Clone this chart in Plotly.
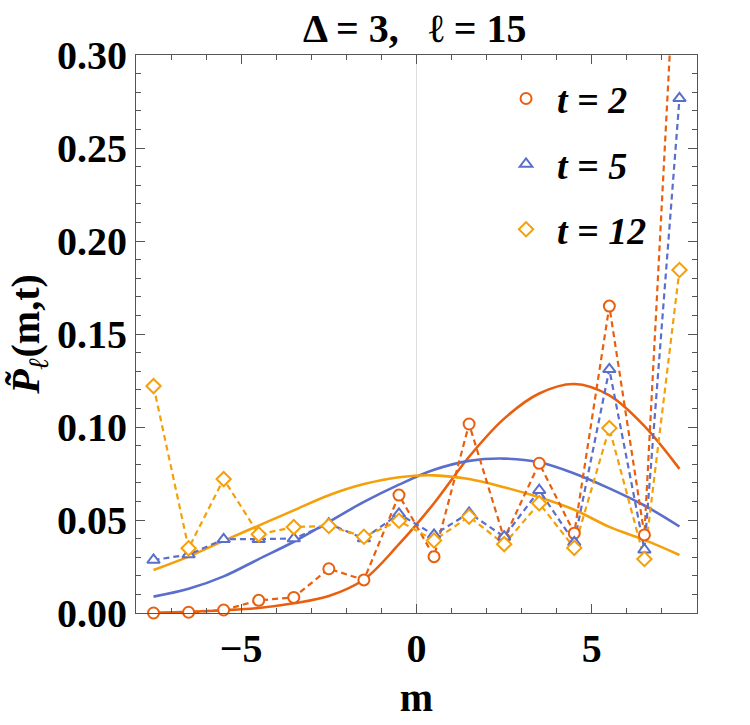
import plotly.graph_objects as go
import numpy as np

# ---- data ----
m_pts = [-7.5, -6.5, -5.5, -4.5, -3.5, -2.5, -1.5, -0.5, 0.5, 1.5, 2.5, 3.5, 4.5, 5.5, 6.5, 7.5]
p_t2 = [0.000, 0.0004, 0.0016, 0.0068, 0.0084, 0.0238, 0.0178, 0.0634, 0.0303, 0.1016, 0.0400, 0.0805, 0.0429, 0.1650, 0.0420, 0.400]
p_t5 = [0.0285, 0.0314, 0.0396, 0.0396, 0.0400, 0.0480, 0.0400, 0.0533, 0.0420, 0.0538, 0.0410, 0.0660, 0.0380, 0.1310, 0.0340, 0.2767]
p_t12 = [0.1220, 0.0348, 0.0720, 0.0423, 0.0462, 0.0468, 0.0410, 0.0496, 0.0390, 0.0518, 0.0370, 0.0590, 0.0350, 0.0994, 0.0290, 0.1844]

m_curve = [-7.5, -6.5, -5.5, -4.5, -3.5, -2.5, -1.5, -0.5, 0.5, 1.5, 2.5, 3.5, 4.5, 5.5, 6.5, 7.5]
c_t2 = [0.0002, 0.0007, 0.0015, 0.0027, 0.0052, 0.0091, 0.0180, 0.0370, 0.0590, 0.0840, 0.1045, 0.1180, 0.1231, 0.1170, 0.1005, 0.0775]
c_t5 = [0.0088, 0.0130, 0.0197, 0.0290, 0.0383, 0.0490, 0.0597, 0.0690, 0.0770, 0.0818, 0.0830, 0.0810, 0.0750, 0.0670, 0.0578, 0.0465]
c_t12 = [0.0231, 0.0303, 0.0388, 0.0470, 0.0552, 0.0633, 0.0693, 0.0730, 0.0740, 0.0720, 0.0676, 0.0622, 0.0555, 0.0463, 0.0393, 0.0312]

labels = ["t = 2", "t = 5", "t = 12"]

RED = "#E8600F"
BLUE = "#5A6ECC"
ORANGE = "#F5A00A"
FONT = "Liberation Serif"
AXC = "#555555"
YMAX = 0.30

series = [
    (labels[0], p_t2, c_t2, RED, "circle"),
    (labels[1], p_t5, c_t5, BLUE, "triangle-up"),
    (labels[2], p_t12, c_t12, ORANGE, "diamond"),
]

fig = go.Figure()

# solid curves
for name, pts, cur, col, sym in series:
    fig.add_trace(go.Scatter(x=m_curve, y=cur, mode="lines", line=dict(color=col, width=2.6, shape="spline"),
                             showlegend=False, hoverinfo="skip"))
# dashed connections
for name, pts, cur, col, sym in series:
    fig.add_trace(go.Scatter(x=m_pts, y=pts, mode="lines", line=dict(color=col, width=2.2, dash="6px,4px"),
                             showlegend=False, hoverinfo="skip"))
# markers
for i, (name, pts, cur, col, sym) in enumerate(series):
    yv = [v if v <= YMAX else None for v in pts]
    fig.add_trace(go.Scatter(x=m_pts, y=yv, mode="markers", cliponaxis=False,
                             marker=dict(symbol=sym, size=11, color="white", line=dict(color=col, width=2)),
                             name="<b><i>%s</i></b>" % name, legendgroup="g%d" % i))

axis_common = dict(
    ticks="inside", ticklen=9, tickwidth=1, tickcolor=AXC,
    showline=True, linecolor=AXC, linewidth=1.2, mirror="allticks",
    showgrid=False,
    tickfont=dict(family=FONT, size=40, color="black", weight="bold"),
)

fig.update_xaxes(range=[-8, 8], tickvals=[-5, 0, 5],
                 minor=dict(ticks="inside", dtick=1, ticklen=5, tickcolor=AXC, showgrid=False),
                 zeroline=True, zerolinecolor="#dddddd", zerolinewidth=1,
                 title=dict(text="<b>m</b>", font=dict(family=FONT, size=40, color="black"), standoff=12),
                 **axis_common)
fig.update_yaxes(range=[0, YMAX], dtick=0.05, tick0=0, tickformat=".2f",
                 minor=dict(ticks="inside", dtick=0.01, ticklen=5, tickcolor=AXC, showgrid=False),
                 zeroline=False,
                 title=dict(text="<b><i>P\u0303</i><sub><i>\u2113</i></sub>(m,t)</b>",
                            font=dict(family=FONT, size=40, color="black"), standoff=4),
                 **axis_common)

fig.update_layout(
    width=750, height=725,
    margin=dict(l=136, r=53, t=55, b=112),
    paper_bgcolor="white", plot_bgcolor="white",
    title=dict(text="<b>\u0394 = 3,\u00a0\u00a0\u00a0\u2113 = 15</b>", x=0.553, xanchor="center", y=0.962, yanchor="middle",
               font=dict(family=FONT, size=40, color="black")),
    legend=dict(x=0.64, y=0.978, xanchor="left", yanchor="top", bgcolor="rgba(0,0,0,0)",
                font=dict(family=FONT, size=38, color="black"), tracegroupgap=13, itemwidth=52),
    showlegend=True,
)

fig.write_html("out.html")
